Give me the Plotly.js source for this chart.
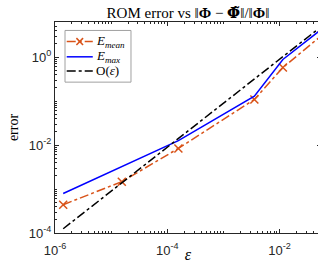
<!DOCTYPE html>
<html><head><meta charset="utf-8">
<script src="https://cdn.plot.ly/plotly-3.0.1.min.js"></script>
<style>html,body{margin:0;padding:0;overflow:hidden;background:#fff;width:318px;height:263px}#c{width:321px;height:263px}</style>
</head><body><div id="c"></div>
<script>
// data
const epsVals = [1.4e-6, 1.55e-5, 1.58e-4, 3.57e-3, 1.15e-2, 5.6e-2];
const Emean   = [4.4e-4, 1.47e-3, 8.4e-3, 0.109, 0.58, 3.1];
const Emax    = [7.9e-4, 3.3e-3, 1.26e-2, 0.13, 0.887, 4.3];
const Oeps    = [1.25e-4, 1.38e-3, 1.4e-2, 0.318, 1.02, 5.0];
const seriesNames = ['<i>E</i><sub><i>mean</i></sub>', '<i>E</i><sub><i>max</i></sub>', 'O(<i>ε</i>)'];
const seriesColors = ['#D95319', '#0000FF', '#000000'];
const seriesDash = ['dashdot', 'solid', 'dashdot'];
const xTickVals = [1e-6, 1e-4, 1e-2];
const xTickText = ['10<sup>-6</sup>', '10<sup>-4</sup>', '10<sup>-2</sup>'];
const yTickVals = [1e-4, 1e-2, 1];
const yTickText = ['10<sup>-4</sup>', '10<sup>-2</sup>', '10<sup>0</sup>'];

function minorVals(lo, hi) {
  const v = [];
  for (let e = lo; e <= hi; e++) for (let m = 1; m <= 9; m++) v.push(m * Math.pow(10, e));
  return v;
}
const axisCol = '#262626';
const tickFont = {family: 'Liberation Sans, Arial, sans-serif', size: 13, color: axisCol};
const serif = 'Liberation Serif, Times New Roman, serif';

const ys = [Emean, Emax, Oeps];
const traces = ys.map((y, i) => ({
  x: epsVals, y: y, name: seriesNames[i], mode: i === 0 ? 'lines+markers' : 'lines', showlegend: false,
  line: {color: seriesColors[i], width: 1.5, dash: seriesDash[i]},
  marker: {symbol: 'x-thin', size: 8, line: {color: seriesColors[i], width: 1.5}}
}));

// legend drawn as a small boxed key in paper coordinates
const legX0 = 0.0376, legX1 = 0.2857, legY0 = 0.715, legY1 = 0.96;
const rowY = [0.907, 0.835, 0.768];
const sampX0 = 0.044, sampX1 = 0.142, textX = 0.147;
const shapes = [{type: 'rect', xref: 'paper', yref: 'paper', x0: legX0, x1: legX1, y0: legY0, y1: legY1,
                 line: {color: '#a0a0a0', width: 1}, fillcolor: '#fff', layer: 'above'}];
const annotations = [];
seriesNames.forEach((n, i) => {
  shapes.push({type: 'line', xref: 'paper', yref: 'paper', x0: sampX0, x1: sampX1, y0: rowY[i], y1: rowY[i],
               line: {color: seriesColors[i], width: 1.5, dash: seriesDash[i]}, layer: 'above'});
  annotations.push({xref: 'paper', yref: 'paper', x: textX, y: rowY[i], xanchor: 'left', yanchor: 'middle',
                    text: n, showarrow: false, font: {family: serif, size: 13, color: '#000'}});
});
// x marker on the first key row
const mx = (sampX0 + sampX1) / 2, dx = 0.0125, dy = 0.0165;
shapes.push({type: 'line', xref: 'paper', yref: 'paper', x0: mx - dx, x1: mx + dx, y0: rowY[0] - dy, y1: rowY[0] + dy,
             line: {color: seriesColors[0], width: 1.5}, layer: 'above'});
shapes.push({type: 'line', xref: 'paper', yref: 'paper', x0: mx - dx, x1: mx + dx, y0: rowY[0] + dy, y1: rowY[0] - dy,
             line: {color: seriesColors[0], width: 1.5}, layer: 'above'});

const layout = {
  width: 321, height: 263,
  margin: {l: 55, r: 0, t: 22, b: 30},
  paper_bgcolor: '#fff', plot_bgcolor: '#fff',
  title: {text: 'ROM error vs ‖<b>Φ</b> − <span style="font-family:DejaVu Serif"><b>Φ̃</b></span>‖/‖<b>Φ</b>‖',
          font: {family: serif, size: 15, color: '#000'},
          xref: 'paper', x: 0.5, xanchor: 'center', yref: 'container', y: 0.951, yanchor: 'middle'},
  xaxis: {type: 'log', range: [-6, -1.26], tickvals: xTickVals, ticktext: xTickText,
          ticks: 'inside', ticklen: 4, tickcolor: axisCol, tickfont: tickFont, ticklabelstandoff: 5,
          showline: true, linecolor: axisCol, linewidth: 1, mirror: 'ticks', showgrid: false, zeroline: false,
          minor: {tickvals: minorVals(-7, 0), ticks: 'inside', ticklen: 2, tickcolor: axisCol},
          title: {text: '<i>ε</i>', font: {family: serif, size: 16, color: '#000'}, standoff: 0}},
  yaxis: {type: 'log', range: [-4, 0.8], tickvals: yTickVals, ticktext: yTickText,
          ticks: 'inside', ticklen: 4, tickcolor: axisCol, tickfont: tickFont,
          showline: true, linecolor: axisCol, linewidth: 1, mirror: 'ticks', showgrid: false, zeroline: false,
          minor: {tickvals: minorVals(-5, 1), ticks: 'inside', ticklen: 2, tickcolor: axisCol},
          title: {text: 'error', font: {family: serif, size: 14, color: '#000'}, standoff: 6}},
  showlegend: false,
  shapes: shapes,
  annotations: annotations
};
Plotly.newPlot('c', traces, layout, {displayModeBar: false, staticPlot: true});
</script></body></html>
